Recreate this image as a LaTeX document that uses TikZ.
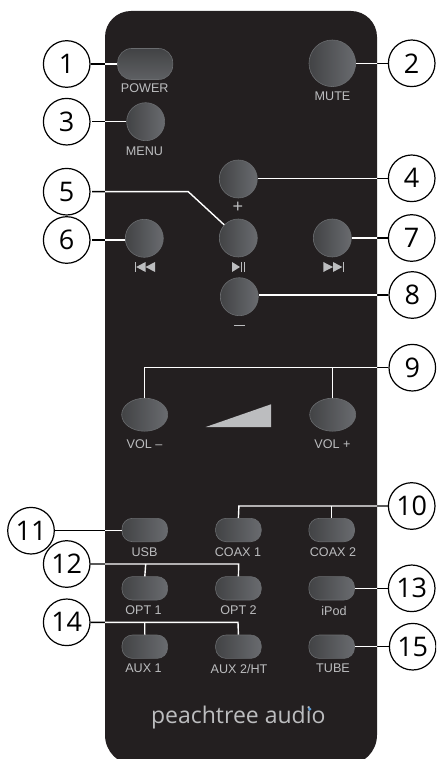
\documentclass[tikz,border=0pt]{standalone}
\usepackage{fontspec}
\setmainfont{Liberation Sans}
\newfontfamily\numfont{Open Sans}
\newfontfamily\logofont{Open Sans}
\usetikzlibrary{shapes.geometric}
\pgfdeclarelayer{backline}
\pgfdeclarelayer{bodylayer}
\pgfsetlayers{backline,bodylayer,main}
\definecolor{bodyc}{HTML}{231F20}
\definecolor{labc}{HTML}{BCBDBF}
\definecolor{btnl}{HTML}{424345}
\definecolor{btnr}{HTML}{696B6F}
\definecolor{btne}{HTML}{6A6C6F}
\definecolor{dotblue}{HTML}{5B9BD5}
\newcommand{\bodypath}{[rounded corners=26pt] (105,400) -- (105,11) -- (377,11) -- (377,400) [rounded corners=30pt] -- (377,765) -- (105,765) [sharp corners] -- cycle}
\tikzset{
 x=1pt,y=-1pt,
 callout/.style={circle,draw=black,fill=white,line width=1.2pt,minimum size=46.6pt,inner sep=0pt,font=\fontsize{27}{27}\selectfont\numfont},
 btnshade/.style={draw=btne,line width=0.6pt,left color=btnl,right color=btnr,inner sep=0pt},
 roundbtn/.style={btnshade,circle,minimum size=38pt},
 bigbtn/.style={btnshade,circle,minimum size=46.6pt},
 ovalbtn/.style={btnshade,ellipse,minimum width=46pt,minimum height=33pt},
 pillbtn/.style={btnshade,rectangle,rounded corners=10.5pt,minimum width=45.6pt,minimum height=23.4pt},
 powerbtn/.style={draw=btne,line width=0.6pt,top color=btnl,bottom color=btnr!90!black,inner sep=0pt,rectangle,rounded corners=14pt,minimum width=55pt,minimum height=31pt},
 lab/.style={text=labc,inner sep=0pt,font=\fontsize{12.6}{12.6}\selectfont},
 wline/.style={draw=white,line width=1.4pt},
 bline/.style={draw=black,line width=1.4pt},
 icon/.style={fill=labc,draw=none},
}
\begin{document}
\begin{tikzpicture}
\useasboundingbox (0,0) rectangle (436,759);
\clip (0,0) rectangle (436,759);
\begin{pgfonlayer}{bodylayer}
\fill[bodyc] \bodypath;
\end{pgfonlayer}

% callouts
\node[callout] (c1) at (66.7,64) {1};
\node[callout] (c2) at (411.7,63.3) {2};
\node[callout] (c3) at (66.7,121.7) {3};
\node[callout] (c4) at (411.7,178.3) {4};
\node[callout] (c6) at (66.7,240) {6};
\node[callout] (c5) at (66.7,191.7) {5};
\node[callout] (c7) at (411.7,238) {7};
\node[callout] (c8) at (412.3,295) {8};
\node[callout] (c9) at (412.3,367.7) {9};
\node[callout] (c10) at (411.7,506) {10};
\node[callout] (c11) at (31,530.7) {11};
\node[callout] (c12) at (66.7,564) {12};
\node[callout] (c13) at (411.7,588.3) {13};
\node[callout] (c14) at (66.7,622.3) {14};
\node[callout] (c15) at (412.7,646.7) {15};

% buttons
\node[powerbtn] (power) at (145.2,64) {};
\node[bigbtn] (mute) at (332.3,63.3) {};
\node[roundbtn] (menu) at (145.7,121.7) {};
\node[roundbtn] (plus) at (238.3,179) {};
\node[roundbtn] (play) at (238.3,238) {};
\node[roundbtn] (prev) at (144.3,238.3) {};
\node[roundbtn] (next) at (332.3,238) {};
\node[roundbtn] (minus) at (239.3,296.7) {};
\node[ovalbtn] (volm) at (144.7,414.7) {};
\node[ovalbtn] (volp) at (332.7,414.7) {};
\node[pillbtn] (usb) at (144.8,530) {};
\node[pillbtn] (coaxa) at (238.4,530) {};
\node[pillbtn] (coaxb) at (331.7,530) {};
\node[pillbtn] (opta) at (144.8,588.3) {};
\node[pillbtn] (optb) at (238.4,588.3) {};
\node[pillbtn] (ipod) at (331.7,588.3) {};
\node[pillbtn] (auxa) at (144.8,646.7) {};
\node[pillbtn] (auxb) at (238.4,646.7) {};
\node[pillbtn] (tube) at (331.7,646.7) {};

% labels
\node[lab] (lpower) at (144.7,88.5) {POWER};
\node[lab] (lmute) at (332.5,96.5) {MUTE};
\node[lab] (lmenu) at (144.5,151) {MENU};
\node[lab,font=\fontsize{18}{18}\selectfont] (lplus) at (238,207) {+};
\node[lab] (lvolm) at (144.5,444.5) {VOL –};
\node[lab] (lvolp) at (332.5,444.5) {VOL +};
\node[lab] (lusb) at (144.5,552) {USB};
\node[lab] (lcoaxa) at (238,552) {COAX 1};
\node[lab] (lcoaxb) at (333,552) {COAX 2};
\node[lab] (lopta) at (143.5,610.5) {OPT 1};
\node[lab] (loptb) at (238.5,610.5) {OPT 2};
\node[lab] (lipod) at (334,610.5) {iPod};
\node[lab] (lauxa) at (143.5,668.5) {AUX 1};
\node[lab] (lauxb) at (239,668.5) {AUX 2/HT};
\node[lab] (ltube) at (333,668.5) {TUBE};
\node[text=labc,inner sep=0pt,font=\fontsize{23}{23}\selectfont\logofont] (logo) at (238.3,718) {peachtree audio};
\fill[dotblue] (309.7,709) circle[radius=1.8];

% icons
\fill[icon] (135,262) rectangle (135.9,272);
\fill[icon] (145.5,262) -- (145.5,272) -- (136.2,267) -- cycle;
\fill[icon] (155,262) -- (155,272) -- (145.5,267) -- cycle;
\fill[icon] (232,262) -- (232,272) -- (240,267) -- cycle;
\fill[icon] (240.6,262) rectangle (241.5,272);
\fill[icon] (244,262) rectangle (244.9,272);
\fill[icon] (323.3,262) -- (323.3,272) -- (333,267) -- cycle;
\fill[icon] (333,262) -- (333,272) -- (342.3,267) -- cycle;
\fill[icon] (342.8,262) rectangle (343.7,272);
\fill[icon] (233.5,325) rectangle (245,326.4);
\fill[fill=labc] (205.7,427) -- (271,427) -- (271,404.3) -- cycle;

% bends
\coordinate (k5) at (188.3,191.7);
\coordinate (k9a) at (144.7,367.7);
\coordinate (k9b) at (332.7,367.7);
\coordinate (k10a) at (238.9,506);
\coordinate (k10b) at (331.7,506);
\coordinate (k12a) at (145.7,564);
\coordinate (k12b) at (238.7,564);
\coordinate (k14a) at (144.7,622.3);
\coordinate (k14b) at (238,622.3);

% connector set, drawn in black beneath the body and in white clipped to it
\newcommand{\connectors}[1]{%
 \draw[#1] (c1.east) -- (c1.east -| power.west);
 \draw[#1] (c2.west) -- (c2.west -| mute.east);
 \draw[#1,shorten <=1.5pt] (c3.east) -- (c3.east -| menu.west);
 \draw[#1] (c4.west) -- (c4.west -| plus.east);
 \draw[#1,shorten <=1.5pt] (c5.east) -- (k5) -- (play.137);
 \draw[#1,shorten <=1.5pt] (c6.east) -- (c6.east -| prev.west);
 \draw[#1] (c7.west) -- (c7.west -| next.east);
 \draw[#1] (c8.west) -- (c8.west -| minus.east);
 \draw[#1] (c9.west) -- (k9a) -- (volm.north);
 \draw[#1] (k9b) -- (volp.north);
 \draw[#1] (c10.west) -- (k10a) -- (coaxa.north);
 \draw[#1] (k10b) -- (coaxb.north);
 \draw[#1] (c11.east) -- (c11.east -| usb.west);
 \draw[#1] (c12.east) -- (k12b) -- (optb.north);
 \draw[#1] (k12a) -- (opta.north);
 \draw[#1] (c13.west) -- (c13.west -| ipod.east);
 \draw[#1] (c14.east) -- (k14b) -- (auxb.north);
 \draw[#1] (k14a) -- (auxa.north);
 \draw[#1] (c15.west) -- (c15.west -| tube.east);
}
\begin{pgfonlayer}{backline}
\connectors{bline}
\end{pgfonlayer}
\begin{scope}
\clip \bodypath;
\connectors{wline}
\end{scope}
\end{tikzpicture}
\end{document}
